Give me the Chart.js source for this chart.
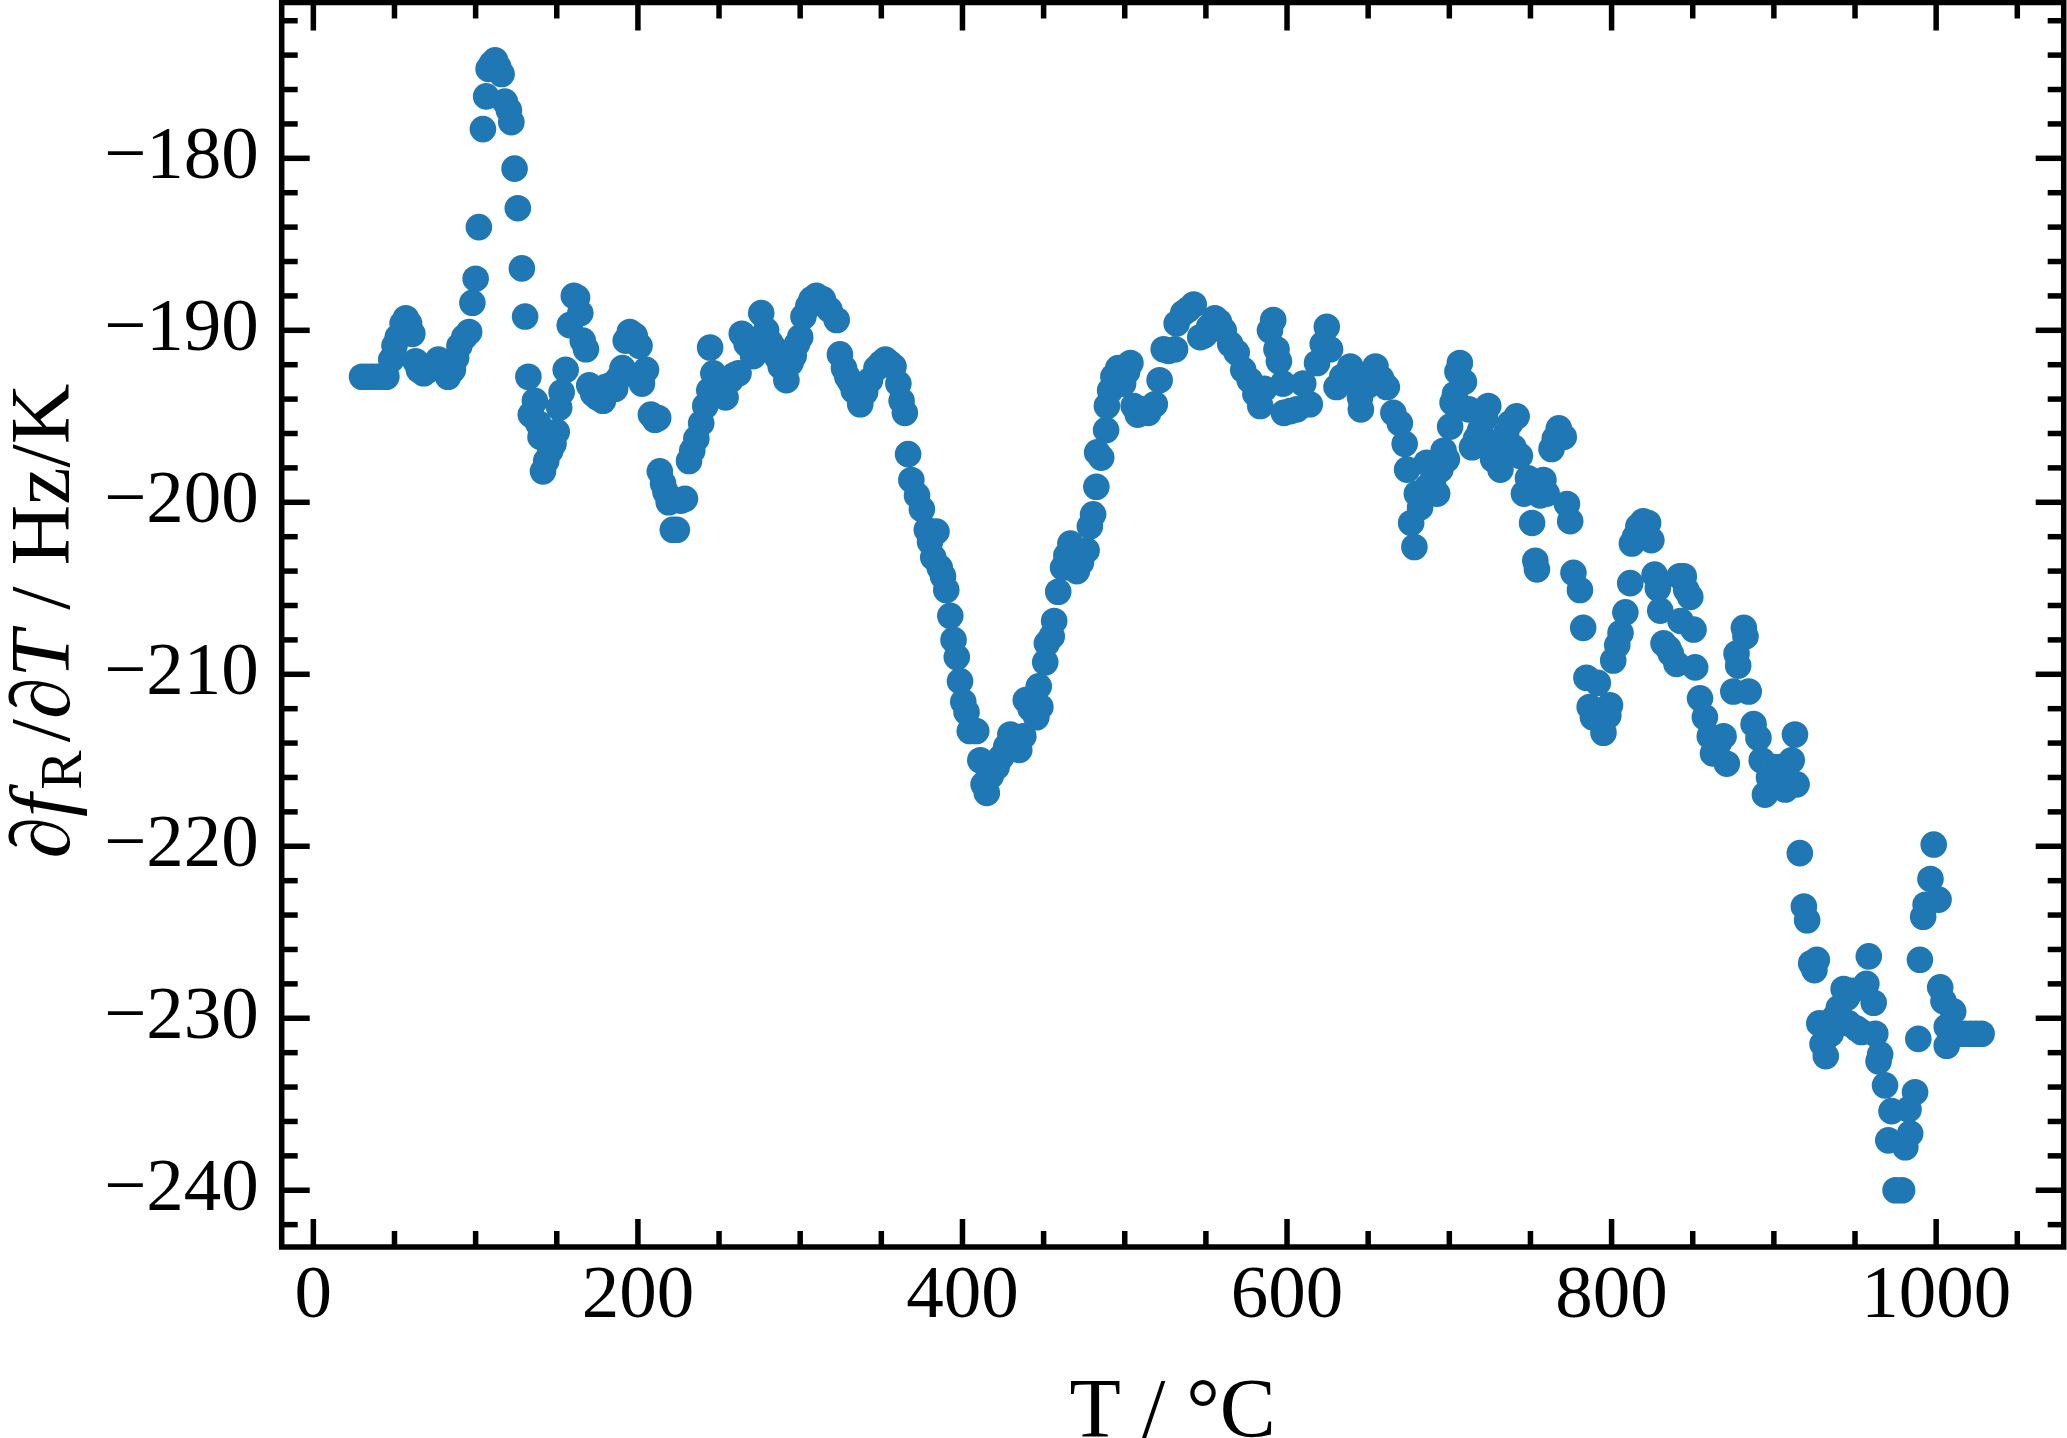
<!DOCTYPE html>
<html>
<head>
<meta charset="utf-8">
<script src="https://cdn.jsdelivr.net/npm/chart.js@4.4.1/dist/chart.umd.min.js"></script>
<style>
html,body{margin:0;padding:0;background:#fff;overflow:hidden}
canvas{display:block}
</style>
</head>
<body>
<canvas id="c" width="2067" height="1438"></canvas>
<script>
// Temperature (°C)
const tempC = [
30,33,36,39,42,45,48,50,52,55,
57,59,61,63,65,68,71,74,77,80,
83,86,88,90,93,96,98,100,102,104.5,
106.5,108,110,112,114,116,118,120.5,122,124,
126,128.5,130.5,132.5,134,136.5,138.5,140,141.5,143.5,
146,148,150,151.5,153,155.5,158,160.5,162.5,164.5,
166,168,170,172.5,175,178.5,180,183,186,188,
190.5,192.5,195,198,201,202.5,205,208,210.5,212.5,
213.5,215.5,217,219,221.5,224,226.5,229,231.5,233.5,
236,239,241.5,244,244.5,246.5,249,251.5,254,257,
259.5,262,264,267,271,273.5,276,279,281.5,283.5,
286,288,291.5,294,296,298,300,302,305,307,
310,314,318,322.5,324.5,327,329,331,333,337,
340,343,347,350,352.5,355,357.5,360.5,362.5,364.5,
366.5,368.5,372,375,378,380,382,384,386,388,
390,392.5,394.5,396.5,398.5,400.5,402.5,404.5,408.5,411,
413,415,417.5,421,424,427,429.5,432.5,435,437.5,
439,442,445.5,447,448,451,452,455,456.5,459,
462,464,466.5,468.5,470.5,473,476.5,478.5,480.5,482.5,
483,485.5,488.5,489,491,493,496,499,501.5,503.5,
505.5,508,511,514.5,518.5,521.5,524,527,531,532,
536,539,542.5,546.5,549,552,555.5,558,561,565,
569,573,577,580.5,583.5,586,589.5,591.5,593.5,595,
597.5,598,602,606,610,614,618.5,622,624.5,626.5,
630.5,634,639,642,645,645.5,650,654.5,658,661.5,
665.5,669.5,672.5,674,676.5,678.5,680,682,686,686.5,
690,692.5,694.5,696.5,698.5,700.5,702,703.5,705,706.5,
709,712,714,716.5,719,722,724,727,730,731.5,
732.5,735,737.5,739.5,741.5,743.5,746,748.5,751,752,
753,754,756,758,760,763,765,767.5,770.5,772.5,
774.5,776.5,780.5,782.5,784.5,786.5,788.5,791.5,795,798,
799,801,803.5,805.5,808.5,811.5,812.5,814.5,816.5,819.5,
822.5,824.5,826.5,828.5,830,832,835,836.5,840,842,
842.5,844.5,846,848.5,850.5,851.5,854.5,857.5,860.5,862.5,
866,869,871,875,877,878,881.5,882.5,884.5,887.5,
890.5,892.5,894.5,897,900,904,907,911,913,914,
916,918.5,920.5,923,925,926.5,928,930,932,935,
937,940,943,945,946,948,951,954,957,958.5,
961.5,962.5,964.5,965.5,968.5,970.5,972.5,975,979,981,
983,984,987,989,990,992,993.5,996.5,998.5,1001.5,
1002.5,1004.5,1006.5,1006.5,1010.5,1014,1017.5,1021,1024.5,1028
];
// d f_R / d T (Hz/K)
const dfdT = [
-192.7,-192.7,-192.7,-192.7,-192.7,-192.7,-191.7,-190.9,-190.4,-189.6,
-189.3,-189.6,-190.2,-191.8,-192.3,-192.5,-192.3,-192.0,-191.7,-192.3,
-192.7,-192.3,-191.6,-190.9,-190.4,-190.1,-188.4,-187.0,-184.0,-178.3,
-176.4,-174.8,-174.5,-174.3,-174.7,-175.1,-176.7,-177.2,-177.9,-180.6,
-182.9,-186.4,-189.2,-192.7,-194.9,-194.1,-195.4,-196.2,-198.2,-197.6,
-197.0,-196.6,-195.9,-194.5,-193.6,-192.3,-189.7,-188.0,-188.1,-189.0,
-190.6,-191.1,-193.2,-193.7,-193.9,-194.1,-193.3,-193.2,-193.4,-192.8,
-192.2,-190.6,-190.1,-190.3,-190.9,-193.1,-192.3,-194.9,-195.2,-195.1,
-198.2,-198.9,-199.4,-200.0,-201.6,-201.6,-199.9,-199.8,-197.6,-197.0,
-196.3,-195.4,-194.4,-193.5,-191.0,-192.5,-193.0,-193.5,-193.9,-192.9,
-192.6,-192.5,-190.2,-190.8,-191.5,-190.6,-189.0,-190.0,-190.7,-191.0,
-191.6,-192.1,-192.9,-191.9,-191.5,-190.8,-190.4,-189.2,-188.6,-188.2,
-188.0,-188.2,-188.8,-189.4,-191.4,-192.2,-192.7,-193.0,-193.5,-194.3,
-193.6,-192.9,-192.2,-191.9,-191.7,-191.9,-192.1,-193.1,-194.1,-194.8,
-197.2,-198.7,-199.6,-200.4,-201.6,-202.3,-203.2,-201.7,-203.8,-204.3,
-205.1,-206.6,-208.0,-209.0,-210.4,-211.6,-212.2,-213.3,-213.3,-215.0,
-216.4,-216.9,-215.9,-215.4,-214.8,-214.2,-213.5,-213.9,-214.4,-213.6,
-211.5,-212.0,-212.5,-210.7,-211.9,-209.3,-208.2,-207.8,-206.9,-205.2,
-203.8,-203.1,-202.4,-203.2,-204.0,-203.5,-202.8,-201.4,-200.7,-199.1,
-197.1,-197.4,-195.8,-194.4,-193.5,-192.7,-192.2,-193.1,-192.4,-191.9,
-194.4,-194.9,-194.6,-194.8,-194.3,-192.9,-191.1,-191.2,-191.1,-189.6,
-189.0,-188.8,-188.5,-190.4,-190.3,-189.8,-189.3,-189.5,-190.0,-190.8,
-191.3,-192.3,-192.9,-193.7,-194.4,-193.4,-190.0,-189.4,-191.1,-191.8,
-193.1,-194.8,-194.7,-194.6,-193.1,-194.3,-191.9,-190.8,-189.8,-191.1,
-193.3,-192.7,-192.1,-193.0,-193.9,-194.6,-193.2,-192.1,-192.8,-193.3,
-194.8,-195.4,-196.6,-198.1,-201.2,-202.6,-199.5,-200.3,-197.7,-199.1,
-198.7,-199.5,-198.1,-197.0,-197.5,-195.6,-194.2,-193.7,-192.4,-191.9,
-193.0,-194.6,-196.8,-196.3,-195.8,-195.1,-194.4,-197.5,-197.0,-198.1,
-196.4,-196.0,-195.4,-196.8,-195.0,-197.3,-199.5,-198.6,-201.2,-199.1,
-203.4,-203.9,-199.6,-198.7,-199.5,-196.9,-196.3,-195.7,-196.2,-200.1,
-201.1,-204.1,-205.1,-207.3,-210.2,-211.9,-212.5,-210.5,-213.4,-212.4,
-211.8,-209.2,-208.3,-207.6,-206.4,-204.7,-202.4,-202.0,-201.4,-201.1,
-201.2,-202.2,-204.2,-205.0,-206.3,-208.2,-208.5,-208.8,-209.4,-204.3,
-206.9,-204.3,-205.1,-205.5,-207.4,-209.6,-211.4,-212.5,-213.6,-214.6,
-214.0,-213.6,-215.2,-211.0,-208.8,-209.5,-207.3,-207.8,-211.0,-212.9,
-213.7,-215.0,-217.0,-216.0,-215.4,-215.4,-216.7,-215.0,-213.5,-216.4,
-220.4,-223.5,-224.3,-226.8,-227.2,-226.6,-230.3,-231.5,-232.2,-230.9,
-230.0,-229.4,-228.3,-228.8,-230.3,-228.4,-230.6,-230.8,-228.0,-226.4,
-229.1,-230.9,-232.5,-232.1,-233.9,-237.1,-235.4,-240.0,-240.0,-237.5,
-235.3,-236.7,-234.3,-231.2,-226.6,-224.1,-223.4,-221.9,-219.9,-223.1,
-228.2,-229.0,-230.5,-231.6,-229.6,-230.9,-230.9,-230.9,-230.9,-230.9
];

const xMajorTicks = [0, 200, 400, 600, 800, 1000];
const yMajorTicks = [-240, -230, -220, -210, -200, -190, -180];
const xMinorStep = 50;
const yMinorStep = 2;
const xLimits = [-19.5, 1078.6];
const yLimits = [-243.3, -170.94];
const xTitle = 'T / \u00B0C';

const SERIF = '"Liberation Serif", "Times New Roman", serif';
const fmt = v => (v < 0 ? '\u2212' + Math.abs(v) : String(v));

const framePlugin = {
  id: 'frameTicks',
  afterDatasetsDraw(chart) {
    const {ctx, chartArea: a, scales} = chart;
    const xs = scales.x, ys = scales.y;
    ctx.save();
    ctx.strokeStyle = '#000';
    ctx.lineCap = 'butt';
    ctx.lineWidth = 5.5;
    const seg = (x1, y1, x2, y2) => { ctx.beginPath(); ctx.moveTo(x1, y1); ctx.lineTo(x2, y2); ctx.stroke(); };
    const majLen = 28, minLen = 16;
    const xTick = (v, len) => {
      const p = xs.getPixelForValue(v);
      seg(p, a.bottom, p, a.bottom - len);
      seg(p, a.top, p, a.top + len);
    };
    const yTick = (v, len) => {
      const p = ys.getPixelForValue(v);
      seg(a.left, p, a.left + len, p);
      seg(a.right, p, a.right - len, p);
    };
    xMajorTicks.forEach(v => xTick(v, majLen));
    yMajorTicks.forEach(v => yTick(v, majLen));
    const xs0 = Math.ceil(xLimits[0] / xMinorStep), xs1 = Math.floor(xLimits[1] / xMinorStep);
    for (let k = xs0; k <= xs1; k++) {
      const v = k * xMinorStep;
      if (!xMajorTicks.includes(v)) xTick(v, minLen);
    }
    const ys0 = Math.ceil(yLimits[0] / yMinorStep), ys1 = Math.floor(yLimits[1] / yMinorStep);
    for (let k = ys0; k <= ys1; k++) {
      const v = k * yMinorStep;
      if (!yMajorTicks.includes(v)) yTick(v, minLen);
    }
    ctx.lineJoin = 'miter';
    ctx.strokeRect(a.left, a.top, a.right - a.left, a.bottom - a.top);
    ctx.restore();
  },
  afterDraw(chart) {
    const {ctx, chartArea: a} = chart;
    ctx.save();
    ctx.fillStyle = '#000';
    // x title
    ctx.font = '84px ' + SERIF;
    ctx.textAlign = 'center';
    ctx.textBaseline = 'alphabetic';
    ctx.fillText(xTitle, (a.left + a.right) / 2, 1436.5);
    // y title (rotated, mixed styles)
    const big = 84, sub = 59;
    const it = 'italic ' + big + 'px ' + SERIF;
    const rm = big + 'px ' + SERIF;
    const sb = sub + 'px ' + SERIF;
    const parts = [
      {t: '\u2202', f: it, dy: 0, gap: 0},
      {t: 'f', f: it, dy: 0, gap: 4},
      {t: 'R', f: sb, dy: 12, gap: 8},
      {t: '/', f: rm, dy: 0, gap: 0},
      {t: '\u2202', f: it, dy: 0, gap: 0},
      {t: 'T', f: it, dy: 0, gap: 0},
      {t: ' / Hz/K', f: rm, dy: 0, gap: 0}
    ];
    let total = 0;
    parts.forEach(p => { ctx.font = p.f; p.w = ctx.measureText(p.t).width; total += p.w + p.gap; });
    ctx.translate(69.4, 621);
    ctx.rotate(-Math.PI / 2);
    ctx.textAlign = 'left';
    let x = -total / 2;
    parts.forEach(p => { ctx.font = p.f; ctx.fillText(p.t, x, p.dy); x += p.w + p.gap; });
    ctx.restore();
  }
};

function zeroPad(s) { s.paddingLeft = 0; s.paddingRight = 0; s.paddingTop = 0; s.paddingBottom = 0; }

function make() {
  const points = tempC.map((t, i) => ({x: t, y: dfdT[i]}));
  new Chart(document.getElementById('c'), {
    type: 'scatter',
    data: {
      datasets: [{
        data: points,
        backgroundColor: '#1f77b4',
        borderColor: '#1f77b4',
        borderWidth: 0,
        pointRadius: 13.3,
        pointHoverRadius: 13.3
      }]
    },
    options: {
      responsive: false,
      animation: false,
      devicePixelRatio: 1,
      events: [],
      layout: {autoPadding: false, padding: {left: 0, top: 2.5, right: 3.3, bottom: 0}},
      plugins: {legend: {display: false}, tooltip: {enabled: false}, title: {display: false}},
      scales: {
        x: {
          type: 'linear', position: 'bottom',
          min: xLimits[0], max: xLimits[1],
          afterBuildTicks: s => { s.ticks = xMajorTicks.map(v => ({value: v})); },
          afterFit: s => { s.height = 191; zeroPad(s); },
          grid: {display: false, drawTicks: false},
          border: {display: false},
          ticks: {font: {family: SERIF, size: 75}, color: '#000', padding: 5, maxRotation: 0, autoSkip: false, callback: fmt}
        },
        y: {
          type: 'linear', position: 'left',
          min: yLimits[0], max: yLimits[1],
          afterBuildTicks: s => { s.ticks = yMajorTicks.map(v => ({value: v})); },
          afterFit: s => { s.width = 281.7; zeroPad(s); },
          grid: {display: false, drawTicks: false},
          border: {display: false},
          ticks: {font: {family: SERIF, size: 75}, color: '#000', padding: 23, autoSkip: false, callback: fmt}
        }
      }
    },
    plugins: [framePlugin]
  });
}

Promise.all([
  document.fonts.load('75px "Liberation Serif"'),
  document.fonts.load('italic 84px "Liberation Serif"')
]).then(make, make);
</script>
</body>
</html>
